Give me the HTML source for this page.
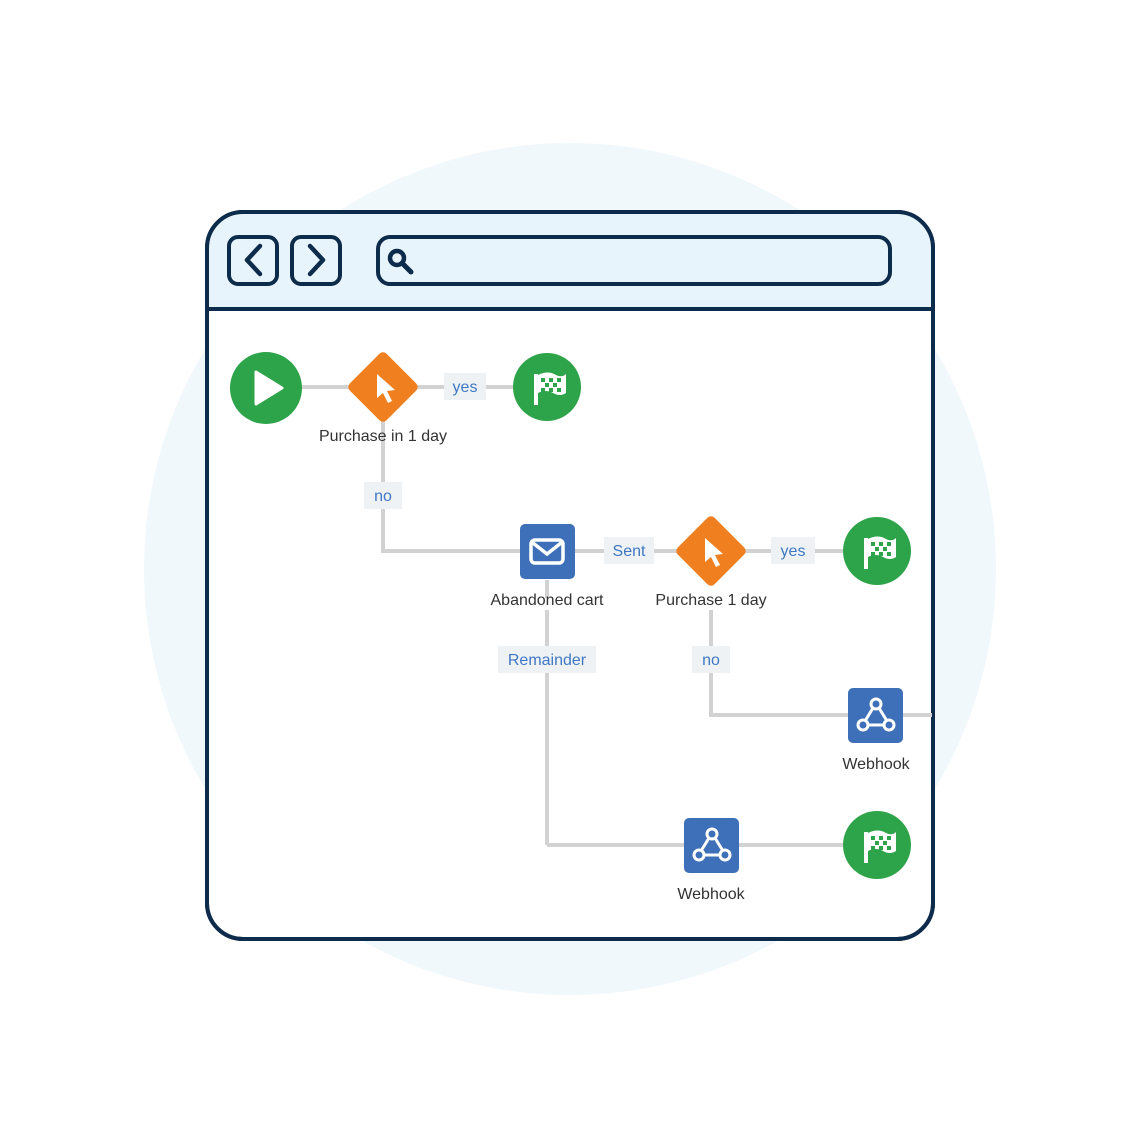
<!DOCTYPE html>
<html><head><style>body{margin:0;background:#fff}svg{display:block}text{font-family:"Liberation Sans",sans-serif}</style></head><body>
<svg width="1140" height="1140" viewBox="0 0 1140 1140">
<circle cx="570" cy="569" r="426" fill="#f1f8fc"/>
<rect x="207" y="212" width="726" height="727" rx="36" fill="#fff" stroke="#0d2b4a" stroke-width="4"/>
<path d="M209,309 L209,248 Q209,214 243,214 L897,214 Q931,214 931,248 L931,309 Z" fill="#e8f4fb"/>
<rect x="207" y="212" width="726" height="727" rx="36" fill="none" stroke="#0d2b4a" stroke-width="4"/>
<line x1="207" y1="309" x2="933" y2="309" stroke="#0d2b4a" stroke-width="4"/>
<rect x="229" y="237" width="48" height="47" rx="9" fill="none" stroke="#0d2b4a" stroke-width="4"/>
<polyline points="260,246 247,260 260,274" fill="none" stroke="#0d2b4a" stroke-width="4.5" stroke-linecap="round" stroke-linejoin="round"/>
<rect x="292" y="237" width="48" height="47" rx="9" fill="none" stroke="#0d2b4a" stroke-width="4"/>
<polyline points="310,246 323,260 310,274" fill="none" stroke="#0d2b4a" stroke-width="4.5" stroke-linecap="round" stroke-linejoin="round"/>
<rect x="378" y="237" width="512" height="47" rx="12" fill="none" stroke="#0d2b4a" stroke-width="4"/>
<circle cx="397" cy="258" r="7" fill="none" stroke="#0d2b4a" stroke-width="4.5"/>
<line x1="402" y1="263" x2="411" y2="272" stroke="#0d2b4a" stroke-width="5" stroke-linecap="round"/>
<g stroke="#d2d2d2" stroke-width="4" fill="none">
<line x1="300" y1="387" x2="515" y2="387"/>
<polyline points="383,420 383,551 520,551"/>
<line x1="575" y1="551" x2="845" y2="551"/>
<line x1="547" y1="580" x2="547" y2="598"/>
<line x1="547" y1="610" x2="547" y2="845"/>
<line x1="547" y1="845" x2="845" y2="845"/>
<polyline points="711,610 711,715 932,715"/>
</g>
<g fill="#eef2f5">
<rect x="444" y="373" width="42" height="27"/>
<rect x="364" y="482" width="38" height="27"/>
<rect x="604" y="537" width="50" height="27"/>
<rect x="771" y="537" width="44" height="27"/>
<rect x="498" y="646" width="98" height="27"/>
<rect x="692" y="646" width="38" height="27"/>
</g>
<g fill="#3f78c4" font-size="16" text-anchor="middle">
<text x="465" y="392">yes</text><text x="383" y="501">no</text><text x="629" y="556">Sent</text>
<text x="793" y="556">yes</text><text x="547" y="665">Remainder</text><text x="711" y="665">no</text>
</g>
<circle cx="266" cy="388" r="36" fill="#2ea44a"/>
<path d="M256,372 L282,388 L256,404 Z" fill="#fff" stroke="#fff" stroke-width="3" stroke-linejoin="round"/>
<g id="d"><rect x="357" y="361" width="52" height="52" rx="5" fill="#f07f1f" transform="rotate(45 383 387)"/>
<path d="M377,374 L377,398 L383,393 L388,403 L392,401 L387,391 L395,390 Z" fill="#fff"/></g>
<use href="#d" x="328" y="164"/>
<g id="f"><circle cx="547" cy="387" r="34" fill="#2ea44a"/>
<path d="M536,374 L536,405" stroke="#fff" stroke-width="4"/>
<path d="M538,375 Q548,370 556,375 Q562,378 566,374 L566,393 Q560,397 553,393 Q546,389 538,393 Z" fill="#fff"/>
<g fill="#2ea44a"><rect x="541" y="378" width="4" height="4"/><rect x="549" y="378" width="4" height="4"/><rect x="557" y="378" width="4" height="4"/><rect x="545" y="383" width="4" height="4"/><rect x="553" y="383" width="4" height="4"/><rect x="541" y="388" width="4" height="4"/><rect x="549" y="388" width="4" height="4"/><rect x="557" y="388" width="4" height="4"/></g></g>
<use href="#f" x="330" y="164"/>
<use href="#f" x="330" y="458"/>
<rect x="520" y="524" width="55" height="55" rx="5" fill="#3d70b8"/>
<rect x="531" y="540" width="32" height="23" rx="4" fill="none" stroke="#fff" stroke-width="3.5"/>
<polyline points="533,543 547,554 561,543" fill="none" stroke="#fff" stroke-width="3.5"/>
<g id="w"><rect x="848" y="688" width="55" height="55" rx="5" fill="#3d70b8"/>
<g fill="none" stroke="#fff" stroke-width="3"><circle cx="876" cy="704" r="5"/><circle cx="863" cy="725" r="5"/><circle cx="889" cy="725" r="5"/>
<path d="M873,708 L865,721 M879,708 L887,721 M868,725 L884,725"/></g></g>
<use href="#w" x="-164" y="130"/>
<g fill="#333" font-size="16" text-anchor="middle">
<text x="383" y="441">Purchase in 1 day</text><text x="547" y="605">Abandoned cart</text>
<text x="711" y="605">Purchase 1 day</text><text x="876" y="769">Webhook</text><text x="711" y="899">Webhook</text>
</g>
</svg>
</body></html>
